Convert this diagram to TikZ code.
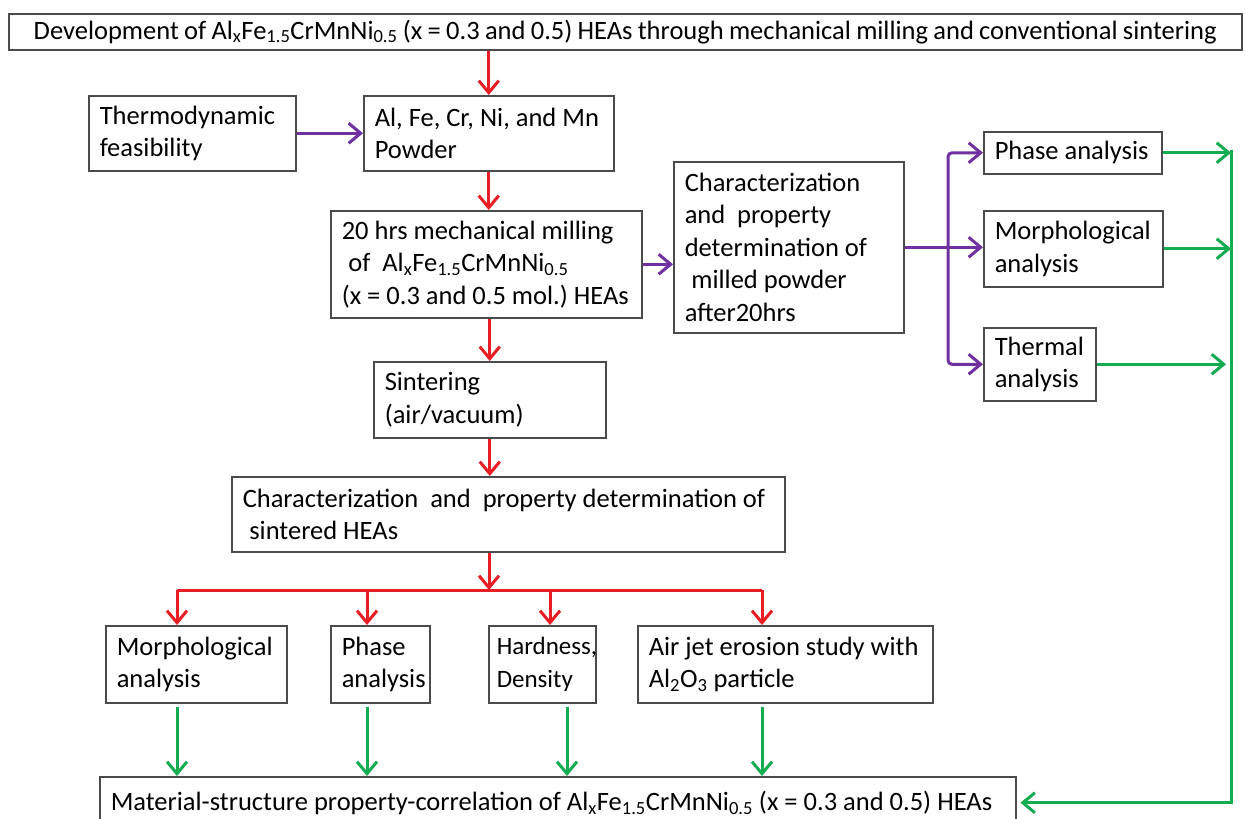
\documentclass[tikz,border=0pt]{standalone}
\usepackage{fontspec}
\setmainfont{Carlito}
\usetikzlibrary{arrows.meta}
\definecolor{cred}{RGB}{232,30,36}
\definecolor{cpur}{RGB}{112,48,160}
\definecolor{cgrn}{RGB}{20,172,80}
\definecolor{cbox}{RGB}{75,75,75}
\newcommand\lbsp{0.226em}
\newcommand\lb[1]{\mbox{\spaceskip=\lbsp\relax\xspaceskip=\lbsp\relax#1}}
\frenchspacing
\hfuzz=200pt
\begin{document}
\begin{tikzpicture}[x=1pt,y=-1pt,
  box/.style={draw=cbox, line width=1.5pt, fill=white, anchor=north west,
    align=left, inner xsep=11pt, inner ysep=0pt,
    font=\fontsize{26.5}{32.5}\selectfont},
  tip/.style={-{Straight Barb[length=12pt,width=20pt]}},
  rarr/.style={draw=cred, line width=3pt, tip},
  parr/.style={draw=cpur, line width=3pt, tip},
  garr/.style={draw=cgrn, line width=3pt, tip},
  rline/.style={draw=cred, line width=3pt},
]
\useasboundingbox (0,0) rectangle (1245,819);
\fill[white] (0,0) rectangle (1245,819);

% boxes
\node[box, minimum width=1233pt, minimum height=36pt, text width=1211pt, align=center] (title) at (8,13)
  {\renewcommand\lbsp{0.2em}\lb{Development of Al\textsubscript{x}Fe\textsubscript{1.5}CrMnNi\textsubscript{0.5} (x = 0.3 and 0.5) HEAs through mechanical milling and conventional sintering}};

\node[box, minimum width=207pt, minimum height=75pt, text width=185pt] (thermo) at (88,95)
  {\lb{Thermodynamic}\\\lb{feasibility}};
\node[box, minimum width=250pt, minimum height=75pt, text width=228pt] (al) at (363,95)
  {\lb{Al, Fe, Cr, Ni, and Mn}\\\lb{Powder}};
\node[box, minimum width=311pt, minimum height=107pt, text width=289pt] (mill) at (330,210)
  {\lb{20 hrs mechanical milling}\\\lb{\hspace*{0.25em}of\ \ Al\textsubscript{x}Fe\textsubscript{1.5}CrMnNi\textsubscript{0.5}}\\\lb{(x = 0.3 and 0.5 mol.) HEAs}};
\node[box, minimum width=230pt, minimum height=171pt, text width=208pt] (char) at (673,161)
  {\lb{Characterization}\\\lb{and\ \ property}\\\lb{determination of}\\\lb{\hspace*{0.25em}milled powder}\\\lb{after20hrs}};
\node[box, minimum width=178pt, minimum height=42pt, text width=156pt] (phase) at (983,131)
  {\lb{Phase analysis}};
\node[box, minimum width=179pt, minimum height=76pt, text width=157pt] (morph) at (983,210)
  {\lb{Morphological}\\\lb{analysis}};
\node[box, minimum width=112pt, minimum height=73pt, text width=90pt] (thermal) at (983,327)
  {\lb{Thermal}\\\lb{analysis}};
\node[box, minimum width=232pt, minimum height=76pt, text width=210pt] (sint) at (373,361)
  {\lb{Sintering}\\\lb{(air/vacuum)}};
\node[box, minimum width=553pt, minimum height=75pt, text width=531pt] (char2) at (231,476)
  {\lb{Characterization\ \ and\ \ property determination of}\\\lb{\hspace*{0.25em}sintered HEAs}};
\node[box, minimum width=181pt, minimum height=77pt, text width=159pt] (bm1) at (105,625)
  {\lb{Morphological}\\\lb{analysis}};
\node[box, minimum width=99pt, minimum height=77pt, text width=77pt] (bm2) at (330,625)
  {\lb{Phase}\\\lb{analysis}};
\node[box, minimum width=107pt, minimum height=77pt, text width=91pt, inner xsep=8pt,
  font=\fontsize{25}{32.5}\selectfont] (bm3) at (488,625)
  {\lb{Hardness,}\\\lb{Density}};
\node[box, minimum width=295pt, minimum height=77pt, text width=273pt] (bm4) at (637,625)
  {\lb{Air jet erosion study with}\\\lb{Al\textsubscript{2}O\textsubscript{3} particle}};
\node[box, minimum width=916pt, minimum height=52pt, text width=894pt] (final) at (99,776)
  {\lb{Material-structure property-correlation of Al\textsubscript{x}Fe\textsubscript{1.5}CrMnNi\textsubscript{0.5} (x = 0.3 and 0.5) HEAs}};

% helper coordinates
\coordinate (bar) at (489,590);
\coordinate (r1) at (177,590);
\coordinate (r2) at (367,590);
\coordinate (r3) at (550,590);
\coordinate (r4) at (762,590);
\coordinate (g3) at (567,590);
\coordinate (pb) at (948,246);
\coordinate (gv) at (1231,150);

% red flow
\draw[rarr] (title.south -| al.north) -- (al.north);
\draw[rarr] (al.south) -- (al.south |- mill.north);
\draw[rarr] (sint.north |- mill.south) -- (sint.north);
\draw[rarr] (sint.south) -- (sint.south |- char2.north);
\draw[rarr] (bar |- char2.south) -- (bar);
\draw[rline] (r1) -- (r4);
\draw[rarr] (r1) -- (r1 |- bm1.north);
\draw[rarr] (r2) -- (r2 |- bm2.north);
\draw[rarr] (r3) -- (r3 |- bm3.north);
\draw[rarr] (r4) -- (r4 |- bm4.north);

% purple flow
\draw[parr] (thermo.east) -- (al.west);
\draw[parr] (mill.east) -- (mill.east -| char.west);
\draw[parr] (char.east) -- (char.east -| morph.west);
\draw[draw=cpur, line width=3pt, rounded corners=4pt,
  {Straight Barb[length=12pt,width=20pt]}-{Straight Barb[length=12pt,width=20pt]}]
  (phase.west) -- (pb |- phase.west) -- (pb |- thermal.west) -- (thermal.west);

% green flow
\draw[garr] (phase.east) -- (phase.east -| gv);
\draw[garr] (morph.east) -- (morph.east -| gv);
\draw[garr, shorten >=5pt] (thermal.east) -- (thermal.east -| gv);
\draw[garr, shorten >=4pt] (gv) -- (gv |- final.east) -- (final.east);
\draw[garr, shorten <=3pt] (r1 |- bm1.south) -- (r1 |- final.north);
\draw[garr, shorten <=3pt] (r2 |- bm2.south) -- (r2 |- final.north);
\draw[garr, shorten <=3pt] (g3 |- bm3.south) -- (g3 |- final.north);
\draw[garr, shorten <=3pt] (r4 |- bm4.south) -- (r4 |- final.north);
\end{tikzpicture}
\end{document}
